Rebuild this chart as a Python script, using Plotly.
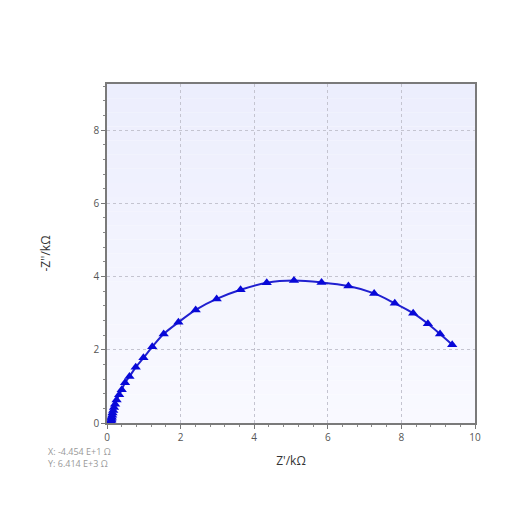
import plotly.graph_objects as go

# Nyquist data (kOhm)
z_real = [0.11, 0.11, 0.12, 0.12, 0.13, 0.14, 0.15, 0.17, 0.19, 0.22, 0.26, 0.33,
          0.40, 0.49, 0.61, 0.78, 0.99, 1.23, 1.54, 1.94, 2.41, 2.98, 3.63, 4.34,
          5.08, 5.83, 6.56, 7.26, 7.82, 8.32, 8.72, 9.05, 9.38]
z_imag = [0.03, 0.05, 0.08, 0.12, 0.16, 0.21, 0.27, 0.34, 0.42, 0.51, 0.63, 0.77,
          0.91, 1.10, 1.27, 1.52, 1.78, 2.08, 2.43, 2.75, 3.09, 3.39, 3.64, 3.83,
          3.89, 3.84, 3.74, 3.54, 3.27, 3.00, 2.71, 2.43, 2.14]

cursor_text = ["X: -4.454 E+1 Ω", "Y: 6.414 E+3 Ω"]

fig = go.Figure()
fig.add_trace(go.Scatter(
    x=z_real, y=z_imag,
    mode="lines+markers",
    line=dict(color="#2020d0", width=2, shape="spline"),
    marker=dict(symbol="triangle-up", size=9, color="#0808d8"),
    showlegend=False,
))

# soft vertical gradient in the plot background (lavender at top -> near white at bottom)
n_bands = 24
top_rgb = (236, 238, 253)
bot_rgb = (249, 249, 255)
shapes = []
for i in range(n_bands):
    t = i / (n_bands - 1)
    r, g, b = [round(bot_rgb[k] + (top_rgb[k] - bot_rgb[k]) * t) for k in range(3)]
    shapes.append(dict(type="rect", xref="paper", yref="paper",
                       x0=0, x1=1, y0=i / n_bands, y1=(i + 1) / n_bands,
                       fillcolor=f"rgb({r},{g},{b})", line=dict(width=0), layer="below"))

axis_common = dict(
    showline=True, linecolor="#7a7a7a", linewidth=1.5, mirror=True,
    showgrid=True, gridcolor="#c4c4d0", griddash="dot", gridwidth=1,
    zeroline=False,
    ticks="outside", ticklen=4, tickcolor="#777777",
    tickfont=dict(size=10, color="#555555"),
    minor=dict(dtick=0.4, ticks="outside", ticklen=2, tickcolor="#888888", showgrid=False),
    dtick=2,
    layer="above traces",
)

fig.update_layout(
    width=531, height=531,
    margin=dict(l=99, r=64, t=76, b=116),
    paper_bgcolor="white",
    plot_bgcolor="rgba(0,0,0,0)",
    shapes=shapes,
    font=dict(family="Open Sans, Noto Sans, sans-serif", color="#333333"),
    xaxis=dict(axis_common, range=[0, 10],
               title=dict(text="Z'/kΩ", font=dict(size=12, color="#333333"), standoff=14)),
    yaxis=dict(axis_common, range=[0, 9.26],
               title=dict(text="-Z''/kΩ", font=dict(size=12, color="#333333"), standoff=40)),
    annotations=[
        dict(x=-0.165, y=-0.085, xref="paper", yref="paper", xanchor="left", yanchor="middle",
             text=cursor_text[0], showarrow=False, font=dict(size=9, color="#999999")),
        dict(x=-0.165, y=-0.12, xref="paper", yref="paper", xanchor="left", yanchor="middle",
             text=cursor_text[1], showarrow=False, font=dict(size=9, color="#999999")),
    ],
)

fig.write_html("out.html")
